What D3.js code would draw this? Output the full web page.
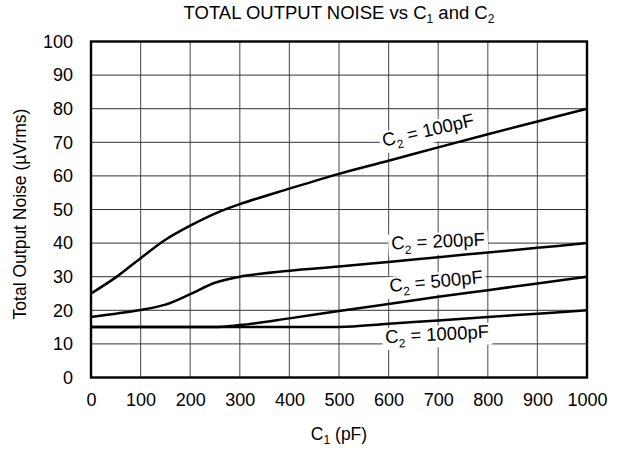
<!DOCTYPE html>
<html><head><meta charset="utf-8">
<script src="https://cdn.jsdelivr.net/npm/d3@7"></script>
<style>body{margin:0;background:#fff}svg{font-family:Arial,"Liberation Sans",sans-serif}</style>
</head><body>
<svg id="c" width="620" height="449"></svg>
<script>
const xTicks = [0,100,200,300,400,500,600,700,800,900,1000];
const yTicks = [0,10,20,30,40,50,60,70,80,90,100];
const c1 = [0,50,100,150,200,250,300,400,500,600,700,800,900,1000];
const c2_100pF  = [25,29.8,35.5,41,45.2,48.8,51.6,56.2,60.6,64.5,68.5,72.4,76.2,80];
const c2_200pF  = [18,19,20.1,21.7,24.8,28.2,30,31.8,33,34.4,35.8,37.2,38.6,40];
const c2_500pF  = [15,15,15,15,15,15,15.6,17.6,19.8,21.9,24,26,28,30];
const c2_1000pF = [15,15,15,15,15,15,15,15,15,16,17,18,19,20];
const series = [
  {name:"100pF", v:c2_100pF, lx:428, ly:130, rot:-13, smooth:true},
  {name:"200pF", v:c2_200pF, lx:438, ly:241, rot:-2.5, smooth:true},
  {name:"500pF", v:c2_500pF, lx:436, ly:281, rot:-5.5, smooth:false},
  {name:"1000pF", v:c2_1000pF, lx:437, ly:334, rot:-3, smooth:false}
];

const svg = d3.select("#c");
const L=91,R=587,T=41.5,B=377.5;
const x = d3.scaleLinear().domain([0,1000]).range([L,R]);
const y = d3.scaleLinear().domain([0,100]).range([B,T]);

const grid = svg.append("g");
grid.selectAll(".vx").data(xTicks.slice(1,-1)).join("line")
  .attr("x1",d=>x(d)).attr("x2",d=>x(d)).attr("y1",T).attr("y2",B)
  .attr("stroke","#666").attr("stroke-width",1.2);
grid.selectAll(".hy").data(yTicks.slice(1,-1)).join("line")
  .attr("x1",L).attr("x2",R).attr("y1",d=>y(d)).attr("y2",d=>y(d))
  .attr("stroke","#333").attr("stroke-width",1);

// label backgrounds (break gridlines)
const lab = svg.append("g");
series.forEach(s=>{
  const g = lab.append("g").attr("transform",`translate(${s.lx},${s.ly}) rotate(${s.rot})`);
  const t = g.append("text").attr("text-anchor","middle").attr("dy","0.35em")
    .attr("font-size",18.5).attr("fill","#000");
  t.append("tspan").text("C");
  t.append("tspan").attr("font-size",12).attr("dy","5").text("2");
  t.append("tspan").attr("dy","-5").text(" = "+s.name);
  const bb = t.node().getBBox();
  g.insert("rect","text").attr("x",bb.x-3).attr("y",bb.y+2).attr("width",bb.width+6).attr("height",bb.height-3).attr("fill","#fff");
});

const lineSmooth = d3.line().x(d=>x(d[0])).y(d=>y(d[1])).curve(d3.curveCatmullRom.alpha(0.5));
const lineMono = d3.line().x(d=>x(d[0])).y(d=>y(d[1])).curve(d3.curveMonotoneX);
series.forEach(s=>{
  svg.append("path").datum(c1.map((c,i)=>[c,s.v[i]])).attr("d",s.smooth?lineSmooth:lineMono)
    .attr("fill","none").attr("stroke","#000").attr("stroke-width",2.5);
});

svg.append("rect").attr("x",L).attr("y",T).attr("width",R-L).attr("height",B-T)
  .attr("fill","none").attr("stroke","#000").attr("stroke-width",2.4);

const xa = svg.append("g").attr("transform",`translate(0,${B})`)
  .call(d3.axisBottom(x).tickValues(xTicks).tickFormat(d3.format("d")).tickSize(0).tickPadding(16));
xa.select(".domain").remove();
xa.selectAll("text").attr("font-size",18).attr("font-family","Arial,'Liberation Sans',sans-serif").attr("fill","#000");
const ya = svg.append("g").attr("transform",`translate(${L},0)`)
  .call(d3.axisLeft(y).tickValues(yTicks).tickSize(0).tickPadding(18));
ya.select(".domain").remove();
ya.selectAll("text").attr("font-size",18).attr("font-family","Arial,'Liberation Sans',sans-serif").attr("fill","#000");

const title = svg.append("text").attr("x",339).attr("y",19).attr("text-anchor","middle").attr("font-size",18.5);
title.append("tspan").text("TOTAL OUTPUT NOISE vs C");
title.append("tspan").attr("font-size",12).attr("dy",4).text("1");
title.append("tspan").attr("dy",-4).text(" and C");
title.append("tspan").attr("font-size",12).attr("dy",4).text("2");

const xt = svg.append("text").attr("x",339).attr("y",440).attr("text-anchor","middle").attr("font-size",17.5);
xt.append("tspan").text("C");
xt.append("tspan").attr("font-size",12).attr("dy",4).text("1");
xt.append("tspan").attr("dy",-4).text(" (pF)");

svg.append("text").attr("transform","translate(26,214) rotate(-90)").attr("text-anchor","middle")
  .attr("font-size",17.5).text("Total Output Noise (µVrms)");
</script>
</body></html>
